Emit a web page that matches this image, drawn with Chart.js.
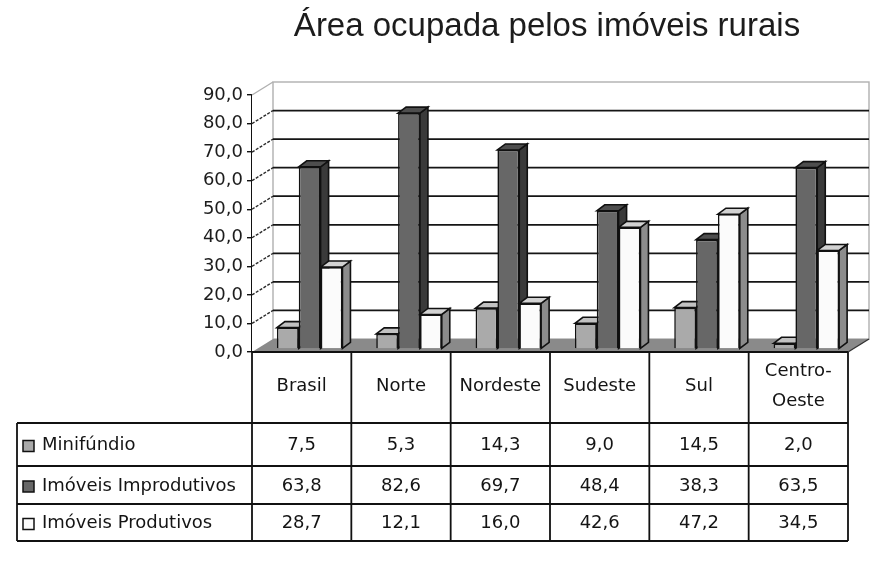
<!DOCTYPE html>
<html>
<head>
<meta charset="utf-8">
<script src="https://cdn.jsdelivr.net/npm/chart.js@4.4.0/dist/chart.umd.min.js"></script>
<style>
html,body{margin:0;padding:0;background:#fff;}
#wrap{width:886px;height:567px;position:relative;}
canvas{display:block;}
</style>
</head>
<body>
<div id="wrap"><canvas id="c" width="886" height="567"></canvas></div>
<script>
// ---- data ----
const chartTitle = 'Área ocupada pelos imóveis rurais';
const categories = ['Brasil', 'Norte', 'Nordeste', 'Sudeste', 'Sul', 'Centro-Oeste'];
const categoryLines = [['Brasil'], ['Norte'], ['Nordeste'], ['Sudeste'], ['Sul'], ['Centro-', 'Oeste']];
const seriesNames = ['Minifúndio', 'Imóveis Improdutivos', 'Imóveis Produtivos'];
const minifundio = [7.5, 5.3, 14.3, 9.0, 14.5, 2.0];
const improdutivos = [63.8, 82.6, 69.7, 48.4, 38.3, 63.5];
const produtivos = [28.7, 12.1, 16.0, 42.6, 47.2, 34.5];
const yTicks = [0, 10, 20, 30, 40, 50, 60, 70, 80, 90];

// ---- styles ----
const frontColors = ['#aaaaaa', '#676767', '#fbfbfb'];
const topColors = ['#c2c2c2', '#4e4e4e', '#d2d2d2'];
const sideColors = ['#858585', '#3a3a3a', '#8c8c8c'];
const WALL = {dx: 21, dy: -13};
const BAR = {dx: 8, dy: -3};
const DEPTH = {dx: 8, dy: -6};
const FONT = "'DejaVu Sans', sans-serif";
const fmt = v => v.toFixed(1).replace('.', ',');

const seriesValues = [minifundio, improdutivos, produtivos];

const scenePlugin = {
  id: 'scene',
  beforeDraw(chart) {
    const ctx = chart.ctx;
    ctx.save();
    ctx.fillStyle = '#fff';
    ctx.fillRect(0, 0, chart.width, chart.height);
    ctx.fillStyle = '#1c1c1c';
    ctx.font = "33px 'Liberation Sans', Arial, sans-serif";
    ctx.textAlign = 'center';
    ctx.textBaseline = 'alphabetic';
    ctx.fillText(chartTitle, 547, 36);
    ctx.restore();
  },
  beforeDatasetsDraw(chart) {
    const ctx = chart.ctx;
    const a = chart.chartArea;
    const y = chart.scales.y;
    const yMax = y.getPixelForValue(yTicks[yTicks.length - 1]);
    const y0 = y.getPixelForValue(0);
    ctx.save();
    // left wall
    ctx.fillStyle = '#fff';
    ctx.beginPath();
    ctx.moveTo(a.left, yMax);
    ctx.lineTo(a.left + WALL.dx, yMax + WALL.dy);
    ctx.lineTo(a.left + WALL.dx, y0 + WALL.dy);
    ctx.lineTo(a.left, y0);
    ctx.closePath();
    ctx.fill();
    // back wall border
    ctx.strokeStyle = '#b0b0b0';
    ctx.lineWidth = 1.4;
    ctx.strokeRect(a.left + WALL.dx, yMax + WALL.dy, a.right - a.left, y0 - yMax);
    ctx.beginPath();
    ctx.moveTo(a.left, yMax);
    ctx.lineTo(a.left + WALL.dx, yMax + WALL.dy);
    ctx.stroke();
    // gridlines
    yTicks.forEach(t => {
      if (t === 0 || t === yTicks[yTicks.length - 1]) return;
      const py = y.getPixelForValue(t);
      ctx.strokeStyle = '#151515';
      ctx.lineWidth = 1.8;
      ctx.beginPath();
      ctx.moveTo(a.left + WALL.dx, py + WALL.dy);
      ctx.lineTo(a.right + WALL.dx, py + WALL.dy);
      ctx.stroke();
      ctx.strokeStyle = '#2a2a2a';
      ctx.lineWidth = 1.4;
      ctx.setLineDash([3, 1.5]);
      ctx.beginPath();
      ctx.moveTo(a.left, py);
      ctx.lineTo(a.left + WALL.dx, py + WALL.dy);
      ctx.stroke();
      ctx.setLineDash([]);
    });
    // floor
    ctx.fillStyle = '#8a8a8a';
    ctx.beginPath();
    ctx.moveTo(a.left, y0);
    ctx.lineTo(a.left + WALL.dx, y0 + WALL.dy);
    ctx.lineTo(a.right + WALL.dx, y0 + WALL.dy);
    ctx.lineTo(a.right, y0);
    ctx.closePath();
    ctx.fill();
    ctx.strokeStyle = '#333';
    ctx.lineWidth = 1.4;
    ctx.beginPath();
    ctx.moveTo(a.right, y0);
    ctx.lineTo(a.right + WALL.dx, y0 + WALL.dy);
    ctx.stroke();
    ctx.restore();

    // bars: shift into depth, draw 3D faces; fronts drawn by Chart.js afterwards
    ctx.save();
    ctx.translate(BAR.dx, BAR.dy);
    ctx.lineWidth = 1.6;
    ctx.lineJoin = 'miter';
    ctx.strokeStyle = '#111';
    chart.data.datasets.forEach((ds, di) => {
      const meta = chart.getDatasetMeta(di);
      meta.data.forEach(el => {
        const p = el.getProps(['x', 'y', 'base', 'width'], true);
        const l = p.x - p.width / 2, r = p.x + p.width / 2;
        const top = Math.min(p.y, p.base), bot = Math.max(p.y, p.base);
        // side
        ctx.fillStyle = sideColors[di];
        ctx.beginPath();
        ctx.moveTo(r, top);
        ctx.lineTo(r + DEPTH.dx, top + DEPTH.dy);
        ctx.lineTo(r + DEPTH.dx, bot + DEPTH.dy);
        ctx.lineTo(r, bot);
        ctx.closePath();
        ctx.fill();
        ctx.stroke();
        // top
        ctx.fillStyle = topColors[di];
        ctx.beginPath();
        ctx.moveTo(l, top);
        ctx.lineTo(l + DEPTH.dx, top + DEPTH.dy);
        ctx.lineTo(r + DEPTH.dx, top + DEPTH.dy);
        ctx.lineTo(r, top);
        ctx.closePath();
        ctx.fill();
        ctx.stroke();
      });
    });
  },
  afterDatasetsDraw(chart) {
    const ctx = chart.ctx;
    ctx.restore();
    const a = chart.chartArea;
    const x = chart.scales.x;
    const catW = (x.getPixelForValue(1) - x.getPixelForValue(0));
    const rowsY = [a.bottom, 423, 466, 504, 541];
    const tableLeft = 17;
    ctx.save();
    ctx.strokeStyle = '#111';
    ctx.lineWidth = 1.8;
    ctx.beginPath();
    ctx.moveTo(a.left, rowsY[0]); ctx.lineTo(a.right, rowsY[0]);
    for (let i = 1; i < rowsY.length; i++) {
      ctx.moveTo(tableLeft, rowsY[i]); ctx.lineTo(a.right, rowsY[i]);
    }
    ctx.moveTo(tableLeft, rowsY[1]); ctx.lineTo(tableLeft, rowsY[4]);
    for (let i = 0; i <= categories.length; i++) {
      const cx = i < categories.length ? x.getPixelForValue(i) - catW / 2 : x.getPixelForValue(categories.length - 1) + catW / 2;
      ctx.moveTo(cx, rowsY[0]); ctx.lineTo(cx, rowsY[4]);
    }
    ctx.stroke();

    ctx.fillStyle = '#141414';
    ctx.font = '18px ' + FONT;
    ctx.textAlign = 'center';
    ctx.textBaseline = 'middle';
    categoryLines.forEach((lines, i) => {
      const cx = x.getPixelForValue(i);
      const mid = (rowsY[0] + rowsY[1]) / 2 - 1;
      const lh = 30;
      lines.forEach((t, k) => {
        ctx.fillText(t, cx, mid + (k - (lines.length - 1) / 2) * lh);
      });
    });
    seriesValues.forEach((vals, si) => {
      const my = (rowsY[si + 1] + rowsY[si + 2]) / 2 + 1;
      vals.forEach((v, i) => {
        ctx.fillText(fmt(v), x.getPixelForValue(i), my);
      });
      ctx.fillStyle = frontColors[si];
      ctx.fillRect(23, my - 5, 11, 11);
      ctx.lineWidth = 1.5;
      ctx.strokeRect(23, my - 5, 11, 11);
      ctx.fillStyle = '#141414';
      ctx.textAlign = 'left';
      ctx.fillText(seriesNames[si], 42, my);
      ctx.textAlign = 'center';
    });
    ctx.restore();
  }
};

new Chart(document.getElementById('c'), {
  type: 'bar',
  data: {
    labels: categories,
    datasets: seriesNames.map((name, i) => ({
      label: name,
      data: seriesValues[i],
      backgroundColor: frontColors[i],
      borderColor: '#111',
      borderWidth: 1.6,
      categoryPercentage: 0.66,
      barPercentage: 1,
      clip: false
    }))
  },
  options: {
    responsive: false,
    animation: false,
    devicePixelRatio: 1,
    layout: {padding: {left: 192, right: 38, top: 95, bottom: 215}, autoPadding: false},
    plugins: {legend: {display: false}, title: {display: false}, tooltip: {enabled: false}},
    scales: {
      x: {display: false},
      y: {
        min: 0, max: 90,
        afterFit: s => { s.width = 60; },
        afterBuildTicks: s => { s.ticks = yTicks.map(v => ({value: v})); },
        ticks: {
          callback: v => fmt(v),
          color: '#1c1c1c',
          font: {family: FONT, size: 18},
          padding: 4
        },
        grid: {drawOnChartArea: false, drawTicks: true, tickLength: 5, color: '#111', lineWidth: 1.4},
        border: {display: true, color: '#111', width: 1.6}
      }
    }
  },
  plugins: [scenePlugin]
});
</script>
</body>
</html>
